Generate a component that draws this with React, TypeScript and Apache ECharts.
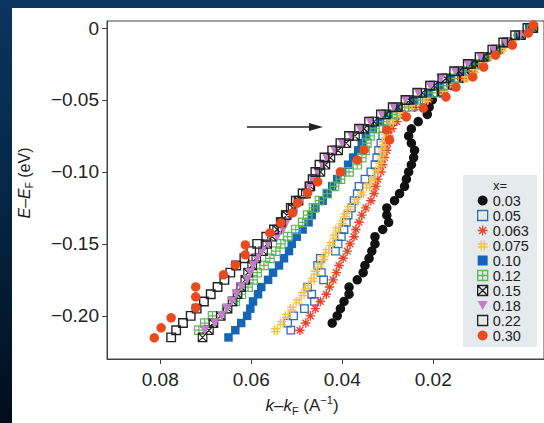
import React, { useEffect, useRef } from 'react';
import * as echarts from 'echarts';

// Binding energies (eV) shared by the MDC-fit series
const energies = [0, -0.005, -0.01, -0.015, -0.02, -0.025, -0.03, -0.035, -0.04, -0.045, -0.05, -0.055, -0.06, -0.065, -0.07, -0.075, -0.08, -0.085, -0.09, -0.095, -0.1, -0.105, -0.11, -0.115, -0.12, -0.125, -0.13, -0.135, -0.14, -0.145, -0.15, -0.155, -0.16, -0.165, -0.17, -0.175, -0.18, -0.185, -0.19, -0.195, -0.2, -0.205, -0.21, -0.215];

// k - kF (1/A) for each doping x, aligned with energies
const k003 = [-0.0013, 0.0013, 0.0035, 0.0057, 0.0085, 0.0098, 0.0117, 0.0137, 0.0161, 0.0183, 0.0202, 0.0209, 0.0213, 0.0233, 0.0248, 0.0254, 0.0248, 0.0241, 0.0243, 0.0248, 0.0254, 0.0259, 0.0263, 0.0274, 0.0285, 0.0302, 0.0302, 0.0298, 0.0311, 0.0328, 0.0328, 0.0335, 0.0341, 0.0350, 0.0354, 0.0367, 0.0385, 0.0385, 0.0396, 0.0404, 0.0411, 0.0422];
const k005 = [-0.0015, 0.0009, 0.0035, 0.0057, 0.0083, 0.0102, 0.0124, 0.0146, 0.0170, 0.0193, 0.0220, 0.0246, 0.0270, 0.0289, 0.0302, 0.0311, 0.0315, 0.0320, 0.0324, 0.0328, 0.0337, 0.0350, 0.0363, 0.0367, 0.0374, 0.0380, 0.0387, 0.0391, 0.0396, 0.0402, 0.0409, 0.0415, 0.0448, 0.0454, 0.0446, 0.0441, 0.0476, 0.0467, 0.0461, 0.0483, 0.0507, 0.0520, 0.0513];
const k0063 = [-0.0020, 0.0007, 0.0030, 0.0052, 0.0080, 0.0093, 0.0113, 0.0133, 0.0157, 0.0178, 0.0211, 0.0241, 0.0263, 0.0280, 0.0291, 0.0298, 0.0300, 0.0302, 0.0307, 0.0311, 0.0315, 0.0322, 0.0326, 0.0330, 0.0337, 0.0348, 0.0357, 0.0363, 0.0370, 0.0374, 0.0383, 0.0389, 0.0398, 0.0407, 0.0413, 0.0420, 0.0428, 0.0435, 0.0448, 0.0459, 0.0470, 0.0480, 0.0493];
const k0075 = [-0.0022, 0.0004, 0.0026, 0.0048, 0.0076, 0.0091, 0.0109, 0.0128, 0.0154, 0.0176, 0.0215, 0.0250, 0.0276, 0.0291, 0.0300, 0.0304, 0.0309, 0.0311, 0.0313, 0.0317, 0.0324, 0.0333, 0.0343, 0.0357, 0.0370, 0.0385, 0.0393, 0.0400, 0.0411, 0.0417, 0.0424, 0.0433, 0.0441, 0.0450, 0.0459, 0.0465, 0.0478, 0.0487, 0.0498, 0.0511, 0.0522, 0.0533, 0.0546];
const k010 = [-0.0011, 0.0013, 0.0041, 0.0065, 0.0091, 0.0115, 0.0137, 0.0161, 0.0185, 0.0211, 0.0243, 0.0276, 0.0298, 0.0317, 0.0333, 0.0348, 0.0357, 0.0365, 0.0376, 0.0387, 0.0400, 0.0411, 0.0422, 0.0433, 0.0443, 0.0459, 0.0467, 0.0474, 0.0487, 0.0500, 0.0511, 0.0517, 0.0528, 0.0539, 0.0552, 0.0563, 0.0578, 0.0585, 0.0596, 0.0602, 0.0609, 0.0622, 0.0635, 0.0650];
const k012 = [-0.0017, 0.0011, 0.0039, 0.0061, 0.0087, 0.0109, 0.0130, 0.0154, 0.0178, 0.0202, 0.0233, 0.0263, 0.0289, 0.0311, 0.0328, 0.0339, 0.0346, 0.0350, 0.0357, 0.0367, 0.0385, 0.0404, 0.0417, 0.0433, 0.0450, 0.0463, 0.0476, 0.0487, 0.0502, 0.0520, 0.0535, 0.0546, 0.0559, 0.0572, 0.0587, 0.0596, 0.0607, 0.0622, 0.0635, 0.0654, 0.0685, 0.0702, 0.0715];
const k015 = [-0.0020, 0.0007, 0.0037, 0.0063, 0.0089, 0.0117, 0.0143, 0.0172, 0.0198, 0.0224, 0.0252, 0.0278, 0.0304, 0.0330, 0.0352, 0.0372, 0.0391, 0.0409, 0.0426, 0.0437, 0.0448, 0.0459, 0.0470, 0.0480, 0.0496, 0.0509, 0.0522, 0.0533, 0.0543, 0.0554, 0.0565, 0.0574, 0.0589, 0.0598, 0.0607, 0.0613, 0.0622, 0.0630, 0.0641, 0.0652, 0.0667, 0.0683, 0.0693, 0.0707];
const k018 = [-0.0017, 0.0009, 0.0041, 0.0067, 0.0096, 0.0124, 0.0152, 0.0183, 0.0207, 0.0233, 0.0261, 0.0287, 0.0313, 0.0339, 0.0361, 0.0380, 0.0400, 0.0417, 0.0435, 0.0443, 0.0454, 0.0465, 0.0472, 0.0478, 0.0491, 0.0502, 0.0513, 0.0522, 0.0530, 0.0543, 0.0563, 0.0576, 0.0587, 0.0596, 0.0602, 0.0609, 0.0622, 0.0633, 0.0643, 0.0654, 0.0665, 0.0680, 0.0702];
const k022 = [-0.0007, 0.0020, 0.0046, 0.0070, 0.0098, 0.0124, 0.0154, 0.0180, 0.0207, 0.0235, 0.0261, 0.0289, 0.0315, 0.0341, 0.0363, 0.0385, 0.0404, 0.0422, 0.0439, 0.0450, 0.0459, 0.0465, 0.0472, 0.0487, 0.0502, 0.0513, 0.0524, 0.0535, 0.0550, 0.0567, 0.0587, 0.0600, 0.0615, 0.0633, 0.0646, 0.0659, 0.0674, 0.0689, 0.0704, 0.0720, 0.0733, 0.0750, 0.0765, 0.0776];
// x = 0.30 sampled on its own energy grid
const k030 = [-0.0020, -0.0009, 0.0026, 0.0063, 0.0089, 0.0113, 0.0150, 0.0172, 0.0222, 0.0259, 0.0302, 0.0296, 0.0352, 0.0367, 0.0404, 0.0454, 0.0476, 0.0498, 0.0509, 0.0535, 0.0559, 0.0613, 0.0613, 0.0635, 0.0661, 0.0722, 0.0722, 0.0722, 0.0776, 0.0798, 0.0813];
const e030 = [0.0021, -0.0035, -0.0118, -0.0188, -0.0271, -0.0340, -0.0410, -0.0479, -0.0556, -0.0618, -0.0708, -0.0778, -0.0847, -0.0917, -0.1000, -0.1069, -0.1146, -0.1215, -0.1285, -0.1354, -0.1424, -0.1507, -0.1576, -0.1646, -0.1715, -0.1799, -0.1868, -0.1944, -0.2014, -0.2083, -0.2153];

const dopings = ['0.03', '0.05', '0.063', '0.075', '0.10', '0.12', '0.15', '0.18', '0.22', '0.30'];
const xTicks = [0.02, 0.04, 0.06, 0.08];
const yTicks = [0, -0.05, -0.1, -0.15, -0.2];

const FONT = '"Liberation Sans", Arial, Helvetica, sans-serif';

const SYM = {
  asterisk: 'path://M5,0 L5,10 M0,5 L10,5 M1.5,1.5 L8.5,8.5 M1.5,8.5 L8.5,1.5',
  hash: 'path://M3.5,0 L3.5,10 M6.5,0 L6.5,10 M0,3.5 L10,3.5 M0,6.5 L10,6.5',
  boxPlus: 'path://M0,0 L10,0 L10,10 L0,10 Z M5,0 L5,10 M0,5 L10,5',
  boxX: 'path://M0,0 L10,0 L10,10 L0,10 Z M0,0 L10,10 M0,10 L10,0',
  tri: 'path://M0,0 L10,0 L5,9 Z',
};

export default function App() {
  const ref = useRef<HTMLDivElement>(null);
  useEffect(() => {
    if (!ref.current) return;
    const chart = echarts.init(ref.current, null, { renderer: 'svg' });
    const pairs = (ks: number[], es: number[]) => ks.map((k, i) => [k, es[i]]);
    const filled = (name: string, data: number[][], symbol: string, size: number, color: string) => ({
      name, type: 'scatter', data, symbol, symbolSize: size,
      itemStyle: { color, opacity: 1 },
    });
    const stroked = (name: string, data: number[][], symbol: string, size: number, color: string, w = 1.3) => ({
      name, type: 'scatter', data, symbol, symbolSize: size,
      itemStyle: { color: 'rgba(255,255,255,0)', borderColor: color, borderWidth: w, opacity: 1 },
    });
    const series = [
      filled(dopings[0], pairs(k003, energies), 'circle', 9.5, '#111111'),
      stroked(dopings[1], pairs(k005, energies), 'rect', 7.5, '#2f6db5'),
      stroked(dopings[2], pairs(k0063, energies), SYM.asterisk, 9.5, '#e8432b', 1.4),
      stroked(dopings[3], pairs(k0075, energies), SYM.hash, 9.5, '#f4c04a', 1.4),
      filled(dopings[4], pairs(k010, energies), 'rect', 8.5, '#1765b6'),
      stroked(dopings[5], pairs(k012, energies), SYM.boxPlus, 8.5, '#5db65a', 1.2),
      stroked(dopings[6], pairs(k015, energies), SYM.boxX, 8.5, '#222222', 1.2),
      filled(dopings[7], pairs(k018, energies), SYM.tri, 9.5, '#c17dc6'),
      stroked(dopings[8], pairs(k022, energies), 'rect', 8.5, '#222222', 1.4),
      filled(dopings[9], pairs(k030, e030), 'circle', 9.5, '#ea4a1e'),
    ];

    const option: any = {
      animation: false,
      backgroundColor: '#ffffff',
      textStyle: { fontFamily: FONT },
      grid: { left: 95, top: 13, right: -5, bottom: 64, show: true, borderColor: '#444', borderWidth: 1, backgroundColor: 'transparent' },
      xAxis: {
        type: 'value', inverse: true, min: -0.00435, max: 0.0917,
        axisLine: { show: true, onZero: false, lineStyle: { color: '#444', width: 1 } },
        axisTick: { show: true, inside: false, length: 5, customValues: xTicks, lineStyle: { color: '#444' } },
        axisLabel: { customValues: xTicks, formatter: (v: number) => v.toFixed(2), fontSize: 19, color: '#222', margin: 11, fontFamily: FONT },
        splitLine: { show: false },
      },
      yAxis: {
        type: 'value', min: -0.23, max: 0.0049,
        axisLine: { show: true, onZero: false, lineStyle: { color: '#444', width: 1 } },
        axisTick: { show: true, inside: false, length: 5, customValues: yTicks, lineStyle: { color: '#444' } },
        axisLabel: {
          customValues: yTicks,
          formatter: (v: number) => (Math.abs(v) < 1e-9 ? '0' : '\u2212' + Math.abs(v).toFixed(2)),
          fontSize: 19, color: '#222', margin: 8, fontFamily: FONT,
        },
        splitLine: { show: false },
      },
      legend: {
        orient: 'vertical', left: 465, top: 185, z: 10,
        data: dopings,
        padding: 0,
        itemWidth: 10, itemHeight: 10, itemGap: 0,
        itemStyle: { borderWidth: 1.3 },
        textStyle: { fontSize: 14.5, lineHeight: 14.8, color: '#222', fontFamily: FONT },
        selectedMode: false,
      },
      graphic: [
        { type: 'rect', shape: { x: 451, y: 167, width: 74, height: 172 }, style: { fill: '#e5ebed' }, z: 5 },
        { type: 'text', x: 488, y: 177, style: { text: 'x=', font: `13px ${FONT}`, fill: '#222', align: 'center', verticalAlign: 'middle' }, z: 100 },
        { type: 'line', shape: { x1: 235, y1: 119, x2: 302, y2: 119 }, style: { stroke: '#222', lineWidth: 1.5 }, z: 100 },
        { type: 'polygon', shape: { points: [[297, 115], [311, 119], [297, 123]] }, style: { fill: '#222' }, z: 100 },
        {
          type: 'text', x: 290, y: 397, z: 100,
          style: {
            text: '{i|k}{n|–}{i|k}{s|F}{n| (A}{p|−1}{n|)}',
            align: 'center', verticalAlign: 'middle',
            rich: {
              i: { fontStyle: 'italic', fontSize: 17, lineHeight: 22, fontFamily: FONT, fill: '#222' },
              n: { fontSize: 17, lineHeight: 22, fontFamily: FONT, fill: '#222' },
              s: { fontSize: 11, lineHeight: 12, verticalAlign: 'bottom', fontFamily: FONT, fill: '#222' },
              p: { fontSize: 11, lineHeight: 12, verticalAlign: 'top', fontFamily: FONT, fill: '#222' },
            },
          },
        },
        {
          type: 'text', x: 12, y: 175, rotation: Math.PI / 2, z: 100,
          style: {
            text: '{i|E}{n|–}{i|E}{s|F}{n| (eV)}',
            align: 'center', verticalAlign: 'middle',
            rich: {
              i: { fontStyle: 'italic', fontSize: 16, lineHeight: 21, fontFamily: FONT, fill: '#222' },
              n: { fontSize: 16, lineHeight: 21, fontFamily: FONT, fill: '#222' },
              s: { fontSize: 10, lineHeight: 11, verticalAlign: 'bottom', fontFamily: FONT, fill: '#222' },
            },
          },
        },
      ],
      series,
    };
    chart.setOption(option);
    return () => chart.dispose();
  }, []);

  return (
    <div style={{ position: 'fixed', left: 0, top: 0, width: 544, height: 423, overflow: 'hidden', background: 'linear-gradient(180deg, #0a3560 0%, #06294a 40%, #020d1c 100%)' }}>
      <div ref={ref} style={{ position: 'absolute', left: 12, top: 8, width: 532, height: 415, background: '#fff' }} />
    </div>
  );
}
